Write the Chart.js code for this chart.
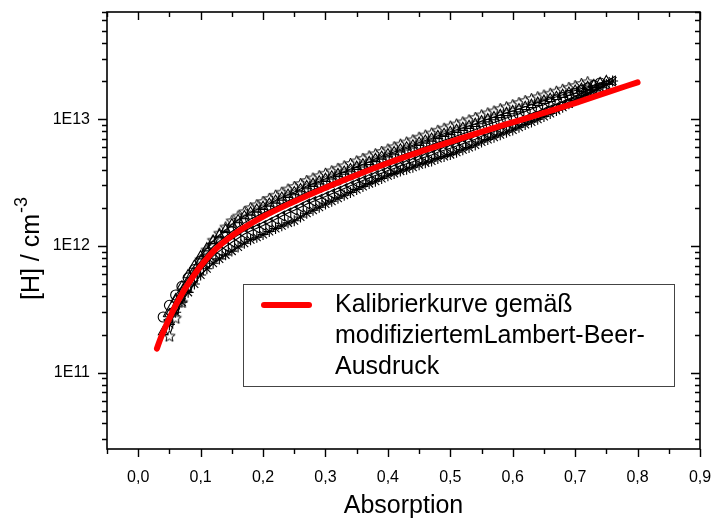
<!DOCTYPE html>
<html>
<head>
<meta charset="utf-8">
<script src="https://cdn.jsdelivr.net/npm/chart.js@4"></script>
<style>
  html, body { margin: 0; padding: 0; background: #fff; }
  #wrap { width: 713px; height: 521px; }
</style>
</head>
<body>
<div id="wrap"><canvas id="chart" width="713" height="521"></canvas></div>
<script>
// ── data ─────────────────────────────────────────────────────────────────
const absorption = [
  0.04, 0.05, 0.06, 0.07, 0.08, 0.09, 0.10, 0.11, 0.12, 0.13, 0.14, 0.15, 0.16, 0.17, 0.18, 0.19,
  0.20, 0.21, 0.22, 0.23, 0.24, 0.25, 0.26, 0.27, 0.28, 0.29, 0.30, 0.31, 0.32, 0.33, 0.34, 0.35,
  0.36, 0.37, 0.38, 0.39, 0.40, 0.41, 0.42, 0.43, 0.44, 0.45, 0.46, 0.47, 0.48, 0.49, 0.50, 0.51,
  0.52, 0.53, 0.54, 0.55, 0.56, 0.57, 0.58, 0.59, 0.60, 0.61, 0.62, 0.63, 0.64, 0.65, 0.66, 0.67,
  0.68, 0.69, 0.70, 0.71, 0.72, 0.73, 0.74, 0.75, 0.76,
];

const hCircles = [
  2.75e11, 3.4e11, 4.1e11, 4.8e11, 5.6e11, 6.5e11, 7.6e11, 8.7e11, 9.9e11, 1.09e12, 1.19e12, 1.30e12, 1.41e12, 1.52e12, 1.63e12, 1.72e12,
  1.82e12, 1.92e12, 2.03e12, 2.15e12, 2.27e12, 2.37e12, 2.51e12, 2.65e12, 2.77e12, 2.89e12, 3.02e12, 3.16e12, 3.31e12, 3.47e12, 3.63e12, 3.80e12,
  3.98e12, 4.17e12, 4.34e12, 4.52e12, 4.72e12, 4.91e12, 5.15e12, 5.35e12, 5.55e12, 5.82e12, 6.04e12, 6.27e12, 6.58e12, 6.82e12, 7.08e12, 7.36e12,
  7.66e12, 7.96e12, 8.28e12, 8.71e12, 9.06e12, 9.42e12, 9.79e12, 1.02e13, 1.06e13, 1.10e13, 1.15e13, 1.20e13, 1.25e13, 1.30e13, 1.36e13, 1.42e13,
  1.48e13, 1.54e13, 1.60e13, 1.68e13, 1.76e13, 1.84e13, 1.93e13, null, null,
];

const hTriangles = [
  2.1e11, 2.9e11, 3.8e11, 4.8e11, 5.9e11, 7.0e11, 8.3e11, 9.6e11, 1.10e12, 1.22e12, 1.34e12, 1.48e12, 1.60e12, 1.72e12, 1.84e12, 1.94e12,
  2.04e12, 2.16e12, 2.28e12, 2.41e12, 2.54e12, 2.66e12, 2.81e12, 2.97e12, 3.10e12, 3.24e12, 3.39e12, 3.54e12, 3.70e12, 3.86e12, 4.04e12, 4.22e12,
  4.41e12, 4.60e12, 4.86e12, 5.07e12, 5.30e12, 5.51e12, 5.78e12, 6.00e12, 6.22e12, 6.53e12, 6.78e12, 7.03e12, 7.38e12, 7.66e12, 7.94e12, 8.24e12,
  8.55e12, 8.87e12, 9.20e12, 9.66e12, 1.00e13, 1.04e13, 1.08e13, 1.12e13, 1.16e13, 1.20e13, 1.25e13, 1.30e13, 1.35e13, 1.40e13, 1.45e13, 1.50e13,
  1.56e13, 1.62e13, 1.68e13, 1.74e13, 1.80e13, 1.86e13, 1.93e13, 2.00e13, null,
];

const hStars = [
  null, 1.95e11, 2.7e11, 3.6e11, 4.8e11, 6.2e11, 7.8e11, 9.3e11, 1.11e12, 1.26e12, 1.41e12, 1.58e12, 1.72e12, 1.86e12, 2.00e12, 2.11e12,
  2.24e12, 2.37e12, 2.51e12, 2.65e12, 2.81e12, 2.94e12, 3.10e12, 3.28e12, 3.43e12, 3.58e12, 3.74e12, 3.91e12, 4.09e12, 4.28e12, 4.47e12, 4.68e12,
  4.90e12, 5.13e12, 5.33e12, 5.56e12, 5.81e12, 6.05e12, 6.35e12, 6.60e12, 6.86e12, 7.20e12, 7.48e12, 7.77e12, 8.17e12, 8.48e12, 8.81e12, 9.15e12,
  9.51e12, 9.87e12, 1.03e13, 1.08e13, 1.12e13, 1.16e13, 1.21e13, 1.25e13, 1.30e13, 1.35e13, 1.40e13, 1.45e13, 1.50e13, 1.55e13, 1.60e13, 1.66e13,
  1.72e13, 1.78e13, 1.84e13, 1.91e13, 1.97e13, null, null, null, null,
];

const hAsterisks = [
  null, 2.4e11, 3.0e11, 3.6e11, 4.3e11, 5.0e11, 5.9e11, 6.6e11, 7.3e11, 7.9e11, 8.5e11, 9.1e11, 9.8e11, 1.05e12, 1.12e12, 1.17e12,
  1.23e12, 1.30e12, 1.37e12, 1.44e12, 1.52e12, 1.58e12, 1.69e12, 1.81e12, 1.91e12, 2.02e12, 2.14e12, 2.25e12, 2.38e12, 2.51e12, 2.64e12, 2.79e12,
  2.94e12, 3.10e12, 3.24e12, 3.40e12, 3.58e12, 3.72e12, 3.89e12, 4.03e12, 4.17e12, 4.37e12, 4.52e12, 4.68e12, 4.90e12, 5.07e12, 5.25e12, 5.48e12,
  5.73e12, 5.98e12, 6.25e12, 6.61e12, 6.90e12, 7.21e12, 7.53e12, 7.87e12, 8.22e12, 8.63e12, 9.06e12, 9.51e12, 9.98e12, 1.05e13, 1.11e13, 1.17e13,
  1.24e13, 1.32e13, 1.40e13, 1.48e13, 1.57e13, 1.67e13, 1.77e13, 1.88e13, 2.00e13,
];

const hLeftTriangles = [
  null, 2.6e11, 3.2e11, 4.0e11, 4.7e11, 5.6e11, 6.5e11, 7.3e11, 8.3e11, 9.1e11, 9.9e11, 1.07e12, 1.15e12, 1.24e12, 1.31e12, 1.38e12,
  1.45e12, 1.53e12, 1.62e12, 1.72e12, 1.82e12, 1.91e12, 2.02e12, 2.14e12, 2.24e12, 2.34e12, 2.45e12, 2.58e12, 2.70e12, 2.84e12, 2.98e12, 3.13e12,
  3.28e12, 3.44e12, 3.59e12, 3.75e12, 3.93e12, 4.08e12, 4.29e12, 4.45e12, 4.61e12, 4.84e12, 5.02e12, 5.21e12, 5.47e12, 5.68e12, 5.89e12, 6.14e12,
  6.40e12, 6.67e12, 6.95e12, 7.33e12, 7.66e12, 8.00e12, 8.36e12, 8.73e12, 9.02e12, 9.44e12, 9.89e12, 1.04e13, 1.08e13, 1.14e13, 1.19e13, 1.24e13,
  1.30e13, 1.36e13, 1.43e13, 1.51e13, 1.60e13, 1.69e13, 1.78e13, 1.88e13, 2.00e13,
];

// calibration curve (red)
const fitAbsorption = [0.03, 0.035, 0.04, 0.05, 0.06, 0.07, 0.08, 0.10, 0.12, 0.15, 0.20, 0.25, 0.30, 0.35, 0.40, 0.45, 0.50, 0.55, 0.60, 0.65, 0.70, 0.75, 0.80];
const fitH = [1.55e11, 1.82e11, 2.09e11, 2.69e11, 3.39e11, 4.17e11, 5.01e11, 6.92e11, 9.02e11, 1.20e12, 1.70e12, 2.24e12, 2.88e12, 3.63e12, 4.51e12, 5.50e12, 6.61e12, 7.94e12, 9.44e12, 1.12e13, 1.34e13, 1.62e13, 1.95e13];

const legendLines = ['Kalibrierkurve gemäß', 'modifiziertemLambert-Beer-', 'Ausdruck'];
const xTitle = 'Absorption';
const yTitle = '[H] / cm';
const yTitleSup = '-3';

const FONT = '"Liberation Sans", Arial, sans-serif';

// ── helpers ───────────────────────────────────────────────────────────────
function pairs(xs, ys) {
  return xs.map((x, i) => ({ x, y: ys[i] })).filter(p => p.y != null);
}

// open five-pointed star marker
function starMarker(r) {
  const c = document.createElement('canvas');
  const s = Math.ceil(r * 2 + 3);
  c.width = s; c.height = s;
  const g = c.getContext('2d');
  g.translate(s / 2, s / 2 + 0.5);
  g.beginPath();
  for (let i = 0; i < 10; i++) {
    const rr = i % 2 === 0 ? r : r * 0.45;
    const a = -Math.PI / 2 + i * Math.PI / 5;
    g.lineTo(rr * Math.cos(a), rr * Math.sin(a));
  }
  g.closePath();
  g.fillStyle = '#fff';
  g.fill();
  g.lineWidth = 1;
  g.strokeStyle = '#000';
  g.stroke();
  return c;
}

function isPow10(v) {
  const l = Math.log10(v);
  return Math.abs(l - Math.round(l)) < 1e-6;
}

// ── frame, ticks on all four sides, titles, legend ───────────────────────
const frameTicks = {
  id: 'frameTicks',
  beforeDraw(chart) {
    const ctx = chart.ctx;
    ctx.save();
    ctx.fillStyle = '#fff';
    ctx.fillRect(0, 0, chart.width, chart.height);
    ctx.restore();
  },
  afterDraw(chart) {
    const ctx = chart.ctx;
    const { left, right, top, bottom } = chart.chartArea;
    const xs = chart.scales.x, ys = chart.scales.y;
    ctx.save();
    ctx.strokeStyle = '#000';
    ctx.lineWidth = 1.6;
    ctx.strokeRect(left, top, right - left, bottom - top);

    ctx.lineWidth = 1.4;
    ctx.beginPath();
    xs.ticks.forEach(t => {
      const px = Math.round(xs.getPixelForValue(t.value)) + 0.5;
      const major = Math.round(t.value * 100) % 10 === 0;
      const len = major ? 8 : 5;
      ctx.moveTo(px, bottom); ctx.lineTo(px, bottom + len);
      ctx.moveTo(px, top); ctx.lineTo(px, top + len);
    });
    ys.ticks.forEach(t => {
      const v = t.value;
      const e = Math.floor(Math.log10(v) + 1e-9);
      const m = v / Math.pow(10, e);
      if (Math.abs(m - Math.round(m)) > 1e-6) return;
      const py = Math.round(ys.getPixelForValue(v)) + 0.5;
      const len = isPow10(v) ? 9 : 5;
      ctx.moveTo(left, py); ctx.lineTo(left - len, py);
      ctx.moveTo(right, py); ctx.lineTo(right - len, py);
    });
    ctx.stroke();

    // axis titles
    ctx.fillStyle = '#000';
    ctx.font = '25px ' + FONT;
    ctx.textAlign = 'center';
    ctx.textBaseline = 'alphabetic';
    ctx.fillText(xTitle, (left + right) / 2, 513);

    ctx.save();
    ctx.translate(39, 249);
    ctx.rotate(-Math.PI / 2);
    ctx.font = '25px ' + FONT;
    const w1 = ctx.measureText(yTitle).width;
    ctx.font = '18px ' + FONT;
    const w2 = ctx.measureText(yTitleSup).width;
    const x0 = -(w1 + w2) / 2;
    ctx.textAlign = 'left';
    ctx.font = '25px ' + FONT;
    ctx.fillText(yTitle, x0, 0);
    ctx.font = '18px ' + FONT;
    ctx.fillText(yTitleSup, x0 + w1 + 1, -12);
    ctx.restore();

    // legend
    ctx.lineWidth = 1;
    ctx.strokeStyle = '#444';
    ctx.fillStyle = '#fff';
    ctx.fillRect(243.5, 284.5, 431, 102);
    ctx.strokeRect(243.5, 284.5, 431, 102);
    ctx.strokeStyle = '#ff0000';
    ctx.lineWidth = 6;
    ctx.lineCap = 'round';
    ctx.beginPath();
    ctx.moveTo(264, 305); ctx.lineTo(309, 305);
    ctx.stroke();
    ctx.fillStyle = '#000';
    ctx.font = '25px ' + FONT;
    ctx.textAlign = 'left';
    legendLines.forEach((s, i) => ctx.fillText(s, 335, 312 + i * 31));
    ctx.restore();
  },
};

// ── chart ─────────────────────────────────────────────────────────────────
const black = {
  showLine: true,
  borderColor: '#000',
  borderWidth: 1.1,
  pointBorderColor: '#000',
  pointBorderWidth: 1.1,
  pointBackgroundColor: 'rgba(255,255,255,0)',
  pointRadius: 5,
  tension: 0,
};

new Chart(document.getElementById('chart'), {
  type: 'line',
  data: {
    datasets: [
      {
        label: legendLines.join(' '),
        data: pairs(fitAbsorption, fitH),
        borderColor: '#ff0000',
        borderWidth: 6,
        borderCapStyle: 'round',
        pointRadius: 0,
        cubicInterpolationMode: 'monotone',
      },
      { ...black, label: 'circles', data: pairs(absorption, hCircles), pointStyle: 'circle' },
      { ...black, label: 'triangles', data: pairs(absorption, hTriangles), pointStyle: 'triangle', pointRadius: 5.5 },
      { ...black, label: 'left triangles', data: pairs(absorption, hLeftTriangles), pointStyle: 'triangle', pointRotation: -90, pointRadius: 5.5 },
      { ...black, label: 'asterisks', data: pairs(absorption, hAsterisks), pointStyle: 'star', pointRadius: 5.5 },
      { ...black, label: 'stars', data: pairs(absorption, hStars), pointStyle: starMarker(6) },
    ],
  },
  options: {
    responsive: false,
    animation: false,
    events: [],
    layout: { padding: { top: 12, right: 13, left: 0, bottom: 0 } },
    plugins: { legend: { display: false }, tooltip: { enabled: false } },
    scales: {
      x: {
        type: 'linear',
        min: -0.05,
        max: 0.9,
        afterFit: s => { s.height = 72; s.paddingLeft = 0; s.paddingRight = 0; },
        grid: { display: false, drawTicks: true, tickLength: 8 },
        border: { display: false },
        ticks: {
          stepSize: 0.05,
          autoSkip: false,
          maxRotation: 0,
          padding: 11,
          color: '#000',
          font: { family: FONT, size: 16 },
          callback: v => {
            const t = Math.round(v * 100);
            return t % 10 === 0 ? (t / 100).toFixed(1).replace('.', ',') : '';
          },
        },
      },
      y: {
        type: 'logarithmic',
        min: 2.5e10,
        max: 7e13,
        afterFit: s => { s.width = 107; s.paddingTop = 0; s.paddingBottom = 0; },
        grid: { display: false, drawTicks: true, tickLength: 8 },
        border: { display: false },
        ticks: {
          autoSkip: false,
          padding: 9,
          color: '#000',
          font: { family: FONT, size: 16 },
          callback: v => isPow10(v) ? '1E' + Math.round(Math.log10(v)) : '',
        },
      },
    },
  },
  plugins: [frameTicks],
});
</script>
</body>
</html>
